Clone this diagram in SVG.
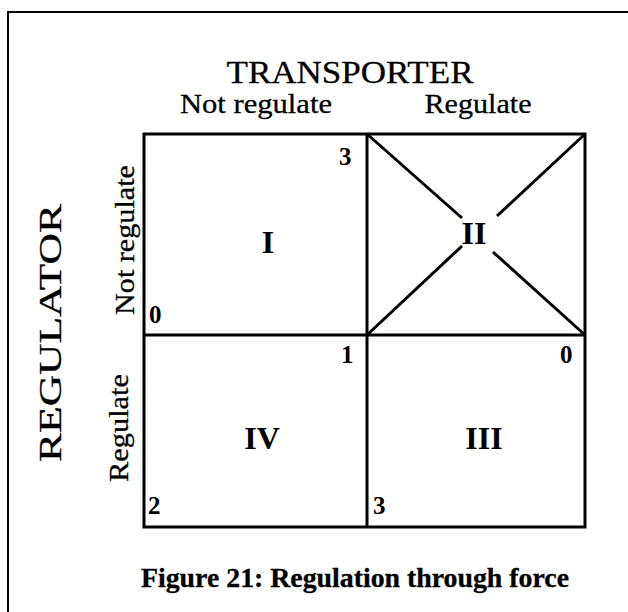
<svg xmlns="http://www.w3.org/2000/svg" width="628" height="612" viewBox="0 0 628 612">
  <style>
    .lbl { font-family: "Liberation Serif", "Times New Roman", Times, serif; fill: #000; stroke: #000; stroke-width: 0.3; }
    .num { font-family: "Liberation Serif", "Times New Roman", Times, serif; font-weight: bold; fill: #000; font-size: 25px; }
    .rom { font-family: "Liberation Serif", "Times New Roman", Times, serif; font-weight: bold; fill: #000; font-size: 32px; text-anchor: middle; }
    .grid { stroke: #000; stroke-width: 3; fill: none; }
  </style>
  <rect width="628" height="612" fill="#fff"/>
  <!-- page frame -->
  <path d="M8,612 V12 H628" fill="none" stroke="#000" stroke-width="2"/>

  <!-- axis titles -->
  <g id="axis-transporter">
    <text class="lbl" x="350" y="83" font-size="32" text-anchor="middle" textLength="247" lengthAdjust="spacingAndGlyphs">TRANSPORTER</text>
    <text class="lbl" x="256" y="113" font-size="27" text-anchor="middle" textLength="152" lengthAdjust="spacingAndGlyphs">Not regulate</text>
    <text class="lbl" x="478" y="113" font-size="27" text-anchor="middle" textLength="107" lengthAdjust="spacingAndGlyphs">Regulate</text>
  </g>
  <g id="axis-regulator">
    <text class="lbl" transform="translate(61,333) rotate(-90)" font-size="32" text-anchor="middle" textLength="258" lengthAdjust="spacingAndGlyphs">REGULATOR</text>
    <text class="lbl" transform="translate(134,240) rotate(-90)" font-size="27" text-anchor="middle" textLength="150" lengthAdjust="spacingAndGlyphs">Not regulate</text>
    <text class="lbl" transform="translate(128,428) rotate(-90)" font-size="27" text-anchor="middle" textLength="108" lengthAdjust="spacingAndGlyphs">Regulate</text>
  </g>

  <!-- matrix grid -->
  <g id="connectors">
    <rect class="grid" x="144" y="134" width="441" height="393"/>
    <line class="grid" x1="367" y1="134" x2="367" y2="527"/>
    <line class="grid" x1="144" y1="335" x2="585" y2="335"/>
    <!-- crossed-out quadrant II -->
    <line class="grid" x1="367" y1="134" x2="462" y2="218"/>
    <line class="grid" x1="585" y1="134" x2="497" y2="216"/>
    <line class="grid" x1="367" y1="335" x2="462" y2="246"/>
    <line class="grid" x1="585" y1="335" x2="493" y2="252"/>
  </g>

  <g id="quadrant-I">
    <text class="rom" x="268" y="253">I</text>
    <text class="num" x="339" y="165">3</text>
    <text class="num" x="149" y="323">0</text>
  </g>
  <g id="quadrant-II">
    <text class="rom" x="474" y="244">II</text>
  </g>
  <g id="quadrant-III">
    <text class="rom" x="484" y="449">III</text>
    <text class="num" x="560" y="363">0</text>
    <text class="num" x="373" y="514">3</text>
  </g>
  <g id="quadrant-IV">
    <text class="rom" x="262" y="449">IV</text>
    <text class="num" x="341" y="363">1</text>
    <text class="num" x="148" y="514">2</text>
  </g>

  <g id="caption">
    <text class="lbl" x="141" y="587" font-size="27" font-weight="bold" textLength="428" lengthAdjust="spacingAndGlyphs">Figure 21: Regulation through force</text>
  </g>
</svg>
